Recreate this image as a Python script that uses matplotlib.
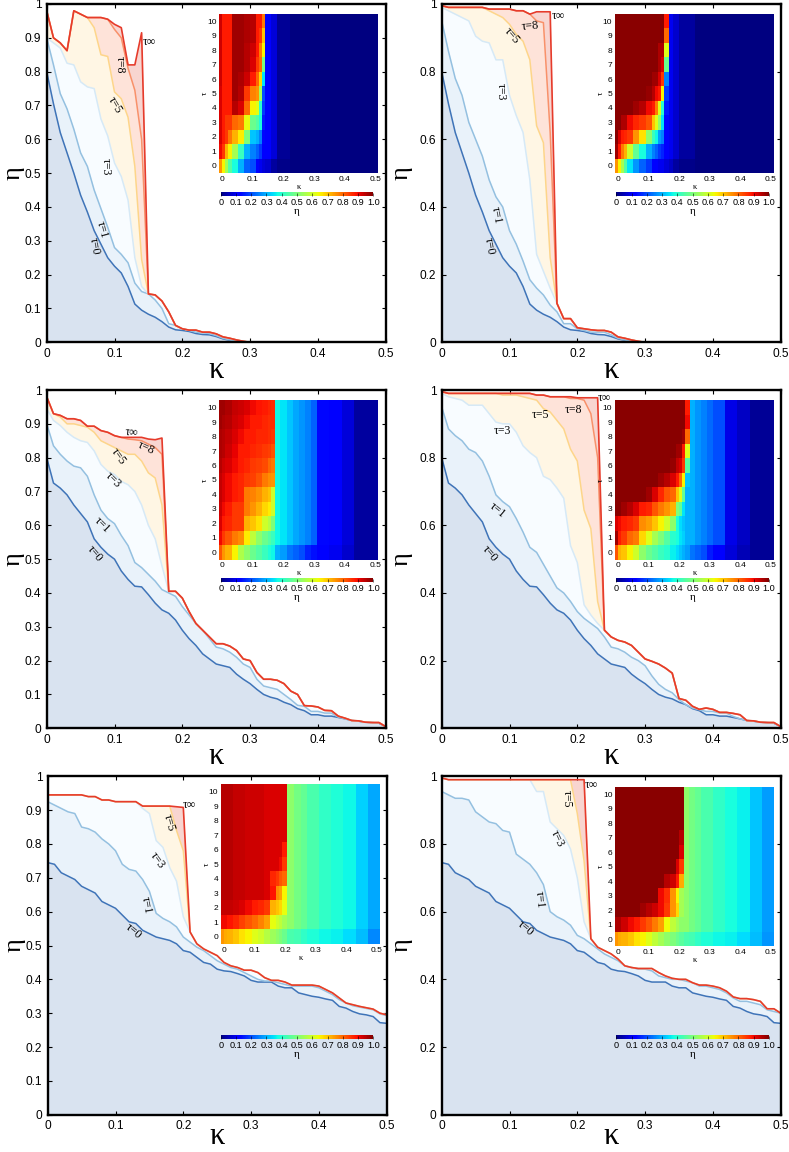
import numpy as np
import matplotlib
matplotlib.use("Agg")
import matplotlib.pyplot as plt

# =========================
# Datos: curvas eta(kappa) sobre una malla de 0.01
# =========================

kappa = [round(i * 0.01, 2) for i in range(51)]

# tau=0 se comparte por filas
tau0_ab = [.80,.705,.62,.56,.50,.435,.385,.33,.29,.25,.225,.205,.165,.113,.095,.083,.074,.061,.045,.037,.035,.032,.026,.023,.022,.017,.01,.006,.002,0,0]
tau0_cd = [.80,.725,.71,.69,.66,.635,.61,.56,.535,.515,.50,.465,.44,.42,.418,.395,.37,.35,.34,.32,.29,.265,.245,.22,.205,.19,.185,.18,.16,.145,.132,.115,.10,.092,.087,.077,.07,.058,.052,.04,.04,.036,.036,.032,.028,.023,.021,.018,.017,.015,.005]
tau0_ef = [.745,.74,.715,.705,.695,.675,.665,.655,.63,.62,.61,.59,.57,.565,.545,.535,.525,.52,.515,.505,.485,.48,.465,.45,.445,.43,.425,.423,.417,.41,.397,.392,.392,.392,.38,.375,.375,.36,.355,.35,.347,.342,.338,.32,.315,.305,.298,.295,.29,.272,.27]

# panel a
tau1_a = [.90,.82,.735,.69,.63,.56,.52,.45,.395,.34,.28,.26,.235,.175,.15,.143,.125,.10,.055,.05,.04,.035,.03,.028,.026,.02,.012,.007,.003,0,0]
tau3_a = [.90,.885,.87,.825,.82,.77,.755,.75,.66,.61,.53,.49,.42,.25,.165]
tau5_a = [.98,.90,.885,.862,.98,.97,.96,.93,.85,.845,.74,.72,.665,.52,.245]
tau8_a = [.98,.90,.885,.862,.98,.97,.96,.96,.96,.955,.925,.90,.81,.745,.60]
tinf_a = [.98,.90,.885,.862,.98,.97,.96,.96,.96,.955,.94,.93,.82,.82,.915]
tail_a = [.143,.14,.122,.09,.05,.04,.036,.036,.03,.03,.025,.016,.012,.007,.003,0]

# panel b
tau1_b = [.95,.86,.78,.73,.65,.60,.55,.48,.43,.40,.33,.29,.24,.185,.16,.14,.11,.09,.055,.055,.04,.035,.03,.03,.03,.022,.012,.007,.003,0,0]
tau3_b = [.99,.98,.97,.96,.95,.905,.89,.885,.835,.835,.73,.67,.62,.48,.26,.21,.16]
tau5_b = [.995,.99,.99,.99,.99,.99,.99,.98,.97,.96,.94,.91,.89,.835,.64,.59,.25]
tau8_b = [.995,.99,.99,.99,.99,.99,.99,.985,.985,.985,.985,.98,.98,.97,.95,.945,.62]
tinf_b = [.995,.99,.99,.99,.99,.99,.99,.985,.985,.985,.985,.98,.98,.97,.977,.977,.977]
tail_b = [.115,.07,.07,.043,.04,.037,.035,.035,.03,.016,.012,.007,.003,0]

# panel c
tau1_c = [.90,.835,.81,.79,.775,.77,.745,.69,.645,.62,.605,.57,.54,.49,.475,.455,.435,.41,.40,.39,.36,.335,.31,.29,.265,.24,.235,.225,.21,.19,.18,.145,.125,.12,.115,.10,.085,.068,.065,.05,.05,.045,.045,.033,.028,.023,.021,.018,.017,.016,.005]
tau3_c = [.945,.91,.895,.875,.86,.85,.845,.82,.78,.76,.75,.73,.72,.70,.66,.60,.56,.48]
tau5_c = [.98,.93,.92,.90,.90,.895,.89,.875,.85,.84,.83,.82,.81,.81,.79,.755,.74,.66]
tau8_c = [.98,.93,.925,.915,.915,.91,.893,.893,.88,.875,.865,.86,.855,.853,.85,.84,.83,.81]
tinf_c = [.98,.93,.925,.915,.915,.91,.893,.893,.88,.875,.865,.86,.86,.86,.86,.855,.853,.858]
tail_c = [.405,.405,.385,.345,.31,.29,.27,.25,.25,.243,.23,.205,.20,.165,.145,.145,.142,.132,.11,.10,.067,.066,.063,.053,.052,.036,.03,.023,.022,.018,.017,.017,.005]

# panel d
tau1_d = [.95,.885,.865,.85,.825,.815,.79,.745,.69,.67,.655,.62,.58,.535,.52,.485,.45,.415,.40,.375,.345,.325,.31,.295,.27,.24,.235,.225,.21,.20,.185,.155,.13,.115,.105,.085,.07,.06,.055,.05,.05,.045,.045,.035,.028,.023,.021,.018,.017,.016,.005]
tau3_d = [.99,.98,.975,.97,.955,.955,.955,.93,.905,.90,.90,.875,.835,.815,.80,.745,.735,.71,.68,.54,.49,.365,.335,.31]
tau5_d = [.995,.99,.99,.99,.99,.99,.99,.99,.99,.985,.985,.985,.98,.975,.97,.945,.935,.91,.885,.825,.79,.645,.59,.375]
tau8_d = [.995,.99,.99,.99,.99,.99,.99,.99,.99,.99,.99,.99,.99,.99,.985,.985,.98,.98,.98,.975,.975,.97,.93,.80]
tinf_d = [.995,.99,.99,.99,.99,.99,.99,.99,.99,.99,.99,.99,.99,.99,.985,.985,.98,.98,.98,.98,.977,.977,.977,.977]
tail_d = [.29,.27,.26,.255,.245,.225,.205,.198,.19,.178,.163,.088,.083,.065,.056,.06,.056,.047,.047,.044,.04,.023,.022,.018,.017,.017,.005]

# panel e
tau1_e = [.925,.915,.905,.895,.89,.85,.845,.835,.815,.80,.78,.74,.725,.72,.695,.66,.595,.58,.57,.555,.525,.51,.495,.485,.47,.455,.445,.435,.43,.42,.41,.40,.395,.395,.39,.385,.38,.38,.38,.38,.375,.365,.355,.34,.33,.322,.318,.314,.31,.298,.293]
tau3_e = [.945,.945,.945,.945,.945,.945,.94,.94,.93,.93,.925,.925,.925,.925,.905,.89,.81,.79,.73,.69,.585]
tau5_e = [.945,.945,.945,.945,.945,.945,.94,.94,.93,.93,.925,.925,.925,.925,.912,.912,.912,.912,.912,.84,.78]
tinf_e = [.945,.945,.945,.945,.945,.945,.94,.94,.93,.93,.925,.925,.925,.925,.912,.912,.912,.912,.912,.91,.908]
tail_e = [.54,.505,.49,.48,.47,.45,.44,.435,.427,.427,.42,.405,.397,.397,.392,.383,.383,.383,.383,.38,.37,.36,.345,.33,.325,.32,.316,.312,.30,.295]

# panel f
tau1_f = [.955,.945,.935,.935,.93,.895,.88,.865,.86,.84,.835,.77,.755,.74,.715,.68,.60,.585,.575,.56,.53,.52,.505,.49,.475,.465,.455,.44,.435,.43,.43,.425,.41,.405,.40,.40,.395,.39,.38,.38,.375,.37,.36,.345,.335,.335,.33,.325,.31,.305,.30]
tau3_f = [.995,.99,.99,.99,.99,.99,.99,.99,.99,.99,.99,.99,.99,.99,.955,.955,.865,.845,.825,.785,.70,.57]
tau5_f = [.995,.99,.99,.99,.99,.99,.99,.99,.99,.99,.99,.99,.99,.99,.99,.99,.99,.99,.99,.99,.89,.75]
tinf_f = [.995,.99,.99,.99,.99,.99,.99,.99,.99,.99,.99,.99,.99,.99,.99,.99,.99,.99,.99,.99,.99,.99]
tail_f = [.52,.495,.485,.475,.46,.44,.435,.432,.432,.432,.42,.41,.403,.40,.40,.39,.383,.383,.38,.375,.365,.348,.343,.343,.34,.335,.313,.313,.30]

# =========================
# Datos: mapas de color (eta en %), filas tau=10 ... tau=0
# =========================

edges_a = [-.01,0,.01,.02,.03,.05,.07,.09,.11,.12,.13,.14,.16,.18,.22,.51]
heat_a = [
    [93,88,88,88,97,97,96,95,88,88,78],
    [93,88,88,88,97,97,96,95,88,85,70],
    [93,88,88,88,97,97,95,93,88,78,65],
    [93,88,88,88,97,97,95,92,85,80,50],
    [93,88,88,88,97,96,93,88,80,68,35],
    [92,88,88,88,97,95,85,77,75,55,20],
    [92,88,88,88,95,92,80,65,62,40,18],
    [92,88,85,85,80,78,63,48,45,38,15],
    [92,88,85,78,72,66,50,32,30,25,13],
    [90,85,72,65,55,42,30,25,22,18,11],
    [75,65,55,45,38,30,22,20,12,10,8],
]
right_a = [12,8,2,0]
right0_a = [7,3,1,0]

edges_b = [-.01,0,.01,.02,.03,.05,.07,.09,.11,.12,.13,.14,.15,.165,.18,.2,.25,.51]
heat_b = [
    [99,99,99,99,99,99,99,99,99,99,99,99,88],
    [99,99,99,99,99,99,99,99,99,99,99,99,80],
    [99,99,99,99,99,99,99,99,99,99,96,96,62],
    [99,99,99,99,99,99,99,99,99,99,96,92,48],
    [99,99,99,99,99,99,99,99,97,97,92,85,25],
    [99,99,99,99,99,99,99,98,95,90,88,65,18],
    [99,99,99,99,99,97,95,90,88,78,62,40,15],
    [99,99,96,96,90,87,85,82,70,62,52,35,13],
    [99,92,88,87,85,75,67,52,42,37,28,25,12],
    [97,88,78,72,60,47,38,30,25,22,18,16,11],
    [75,65,55,45,35,27,22,18,12,11,10,10,8],
]
right_b = [10,7,3,0]
right0_b = [6,3,1,0]

edges_c = [-.01,0,.01,.03,.05,.07,.09,.11,.13,.15,.16,.172,.19,.21,.23,.25,.27,.29,.31,.35,.39,.43,.51]
heat_c = [
    [97,97,96,94,93,92,90,89,88,87,86],
    [97,96,95,93,92,90,88,88,87,86,86],
    [96,95,94,92,90,88,88,87,87,86,85],
    [96,95,93,91,88,88,87,86,85,84,82],
    [95,93,92,90,88,87,85,84,83,80,78],
    [94,92,90,88,87,85,84,82,78,76,75],
    [94,92,90,88,87,78,77,75,72,70,60],
    [93,90,88,85,85,78,75,72,68,66,60],
    [92,88,87,85,85,72,70,67,60,57,50],
    [90,85,82,78,76,66,58,52,48,45,42],
    [82,75,72,65,56,52,48,45,42,39,37],
]
right_c = [37,35,32,29,27,25,22,13,12,8,3]
right0_c = [30,28,24,22,20,16,14,12,10,7,3]

edges_d = [-.01,0,.01,.03,.05,.07,.09,.11,.13,.15,.17,.19,.2,.21,.22,.235,.25,.27,.29,.31,.35,.39,.43,.51]
heat_d = [
    [99,99,99,99,99,99,99,99,99,99,99,99,99,99,88],
    [99,99,99,99,99,99,99,99,99,99,99,99,99,99,90],
    [99,99,99,99,99,99,99,99,99,99,99,99,99,97,80],
    [99,99,99,99,99,99,99,99,99,99,99,97,97,88,62],
    [99,99,99,99,99,99,99,99,99,99,98,94,92,85,45],
    [99,99,99,99,99,99,99,99,97,95,92,88,80,65,32],
    [99,99,99,99,99,99,97,92,87,82,80,70,62,47,30],
    [99,99,97,95,92,88,87,82,78,75,72,50,47,35,30],
    [92,90,88,87,85,76,74,70,65,60,52,38,34,32,30],
    [97,88,85,80,78,68,62,55,50,45,40,38,35,33,30],
    [82,72,70,65,60,52,48,45,42,40,36,34,32,30,28],
]
right_d = [30,27,25,23,20,9,6,2]
right0_d = [24,22,20,15,12,8,5,2]

edges_e = [-.01,0,.01,.03,.05,.07,.09,.11,.13,.15,.17,.18,.19,.205,.23,.25,.27,.31,.35,.39,.43,.47,.51]
heat_e = [
    [95,95,95,94,94,93,93,93,92,92,92,92,92],
    [95,95,95,94,94,93,93,93,92,92,92,92,92],
    [95,95,95,94,94,93,93,93,92,92,92,92,92],
    [95,95,95,94,94,93,93,93,92,92,92,92,92],
    [95,95,95,94,94,93,93,93,92,92,92,92,88],
    [95,95,95,94,94,93,93,93,92,92,92,90,85],
    [95,95,95,94,94,93,93,93,92,87,85,82,80],
    [95,95,95,94,94,93,93,93,92,89,76,74,65],
    [94,94,94,93,92,90,88,87,85,72,70,68,63],
    [90,90,89,87,84,82,80,77,74,63,60,58,55],
    [75,73,72,70,67,65,62,60,57,54,52,50,48],
]
right_e = [52,49,47,44,41,39,37,33,29]
right0_e = [44,43,41,39,37,36,34,31,26]

edges_f = [-.01,0,.01,.03,.05,.07,.09,.11,.13,.15,.17,.19,.2,.215,.23,.25,.27,.31,.35,.39,.43,.47,.51]
heat_f = [
    [99,99,99,99,99,99,99,99,99,99,99,99,99],
    [99,99,99,99,99,99,99,99,99,99,99,99,99],
    [99,99,99,99,99,99,99,99,99,99,99,99,99],
    [99,99,99,99,99,99,99,99,99,99,99,99,95],
    [99,99,99,99,99,99,99,99,99,99,99,99,92],
    [99,99,99,99,99,99,99,99,99,99,99,92,85],
    [99,99,99,99,99,99,99,99,99,95,93,88,73],
    [99,99,99,99,99,99,99,99,90,86,75,65,55],
    [99,99,99,99,99,97,95,93,90,85,75,68,55],
    [96,96,93,90,88,85,82,78,74,64,58,55,52],
    [75,73,72,70,67,65,62,58,55,52,50,48,46],
]
right_f = [52,49,47,44,41,38,36,32,28]
right0_f = [44,43,41,39,37,36,34,31,27]

# etiquetas: texto, kappa, eta, rotacion
labels_a = [("τ=8",.108,.82,-90),("τ=5",.10,.70,-60),("τ=3",.087,.52,-90),("τ=1",.082,.332,-75),("τ=0",.07,.285,-80),("τ∞",.152,.887,0)]
labels_b = [("τ=8",.13,.935,5),("τ=5",.103,.905,-50),("τ=3",.087,.74,-90),("τ=1",.08,.375,-80),("τ=0",.07,.285,-80),("τ∞",.172,.965,0)]
labels_c = [("τ∞",.125,.875,-5),("τ=8",.146,.828,-25),("τ=5",.105,.805,-55),("τ=3",.097,.735,-45),("τ=1",.082,.60,-45),("τ=0",.07,.517,-50)]
labels_d = [("τ∞",.24,.975,0),("τ=8",.194,.94,0),("τ=5",.145,.925,0),("τ=3",.09,.88,0),("τ=1",.082,.645,-40),("τ=0",.07,.517,-50)]
labels_e = [("τ∞",.209,.915,0),("τ=5",.178,.863,-75),("τ=3",.162,.752,-55),("τ=1",.145,.62,-80),("τ=0",.126,.543,-40)]
labels_f = [("τ∞",.22,.975,0),("τ=5",.185,.935,-90),("τ=3",.17,.815,-65),("τ=1",.144,.635,-85),("τ=0",.124,.55,-40)]

colorbar_ticks = [0,.1,.2,.3,.4,.5,.6,.7,.8,.9,1]
colorbar_labels = ["0","0.1","0.2","0.3","0.4","0.5","0.6","0.7","0.8","0.9","1.0"]

# =========================
# Figura
# =========================

W, H = 789, 1152
plt.rcParams["font.family"] = ["Liberation Sans", "DejaVu Sans"]
serif = ["Liberation Serif", "DejaVu Serif"]

fig = plt.figure(figsize=(W / 100, H / 100), dpi=100)


def box(x0, y0, x1, y1):
    # rectangulo en pixeles (origen arriba a la izquierda)
    return [x0 / W, 1 - y1 / H, (x1 - x0) / W, (y1 - y0) / H]


fill_colors = {"inf": "#f8d5d0", "8": "#fee3d9", "5": "#fff6e4", "3": "#f8fcff", "1": "#e9f2fa", "0": "#d9e3f0"}
line_colors = {"inf": "#e63b2b", "8": "#f8916a", "5": "#fdd58a", "3": "#d6e9f6", "1": "#94c0e0", "0": "#3f74b8"}


def panel(main, inset, cbar, yticks, tau0, tau1, tau3, tau5, tau8, tinf, tail, labels,
          edges, heat, right, right0):
    ax = fig.add_axes(box(*main))

    curves = [("inf", tinf + tail)]
    if tau8 is not None:
        curves.append(("8", tau8 + tail))
    curves += [("5", tau5 + tail), ("3", tau3 + tail), ("1", tau1), ("0", tau0)]

    for name, y in curves:
        ax.fill_between(kappa[:len(y)], y, 0, color=fill_colors[name], lw=0)
    for name, y in reversed(curves[1:]):
        ax.plot(kappa[:len(y)], y, color=line_colors[name], lw=1.1)
    ax.plot(kappa[:len(curves[0][1])], curves[0][1], color=line_colors["inf"], lw=1.2)

    for txt, k, e, rot in labels:
        ax.text(k, e, txt, family=serif, fontsize=8.5, rotation=rot, ha="center", va="center")

    ax.set_xlim(0, 0.5)
    ax.set_ylim(0, 1)
    ax.set_xticks([0, .1, .2, .3, .4, .5])
    ax.set_xticklabels(["0", "0.1", "0.2", "0.3", "0.4", "0.5"])
    ax.set_yticks(yticks)
    ax.set_yticklabels([f"{v:g}" for v in yticks])
    ax.tick_params(direction="in", top=True, right=True, length=3, width=0.8, labelsize=8.6, pad=3.8)
    for s in ax.spines.values():
        s.set_linewidth(1.7)

    # kappa y eta grandes, en pixeles respecto al eje
    kappa_dy = 21.5 if main[3] > 1000 else 28
    eta_dx = 33 if main[0] < 100 else 40
    fig.text((main[0] + main[2]) / 2 / W, 1 - (main[3] + kappa_dy) / H, "κ", family=serif, fontsize=22, ha="center", va="center")
    fig.text((main[0] - eta_dx) / W, 1 - (main[1] + main[3]) / 2 / H, "η", family=serif, fontsize=19, rotation=90, ha="center", va="center")

    # mapa de color insertado
    ins = fig.add_axes(box(*inset))
    rows = [row + (right0 if i == 10 else right) for i, row in enumerate(heat)]
    z = np.array(rows[::-1]) / 100
    mesh = ins.pcolormesh(edges, np.arange(-0.5, 11), z, cmap="jet", vmin=0, vmax=1, shading="flat")
    ins.set_xlim(edges[0], edges[-1])
    ins.set_ylim(-0.5, 10.5)
    ins.set_xticks([0, .1, .2, .3, .4, .5])
    ins.set_xticklabels(["0", "0.1", "0.2", "0.3", "0.4", "0.5"])
    ins.set_yticks(range(11))
    ins.tick_params(length=0, labelsize=6, pad=2)
    for s in ins.spines.values():
        s.set_visible(False)
    ins.set_xlabel("κ", family=serif, fontsize=6)
    ins.set_ylabel("τ", family=serif, fontsize=6)
    ins.xaxis.set_label_coords(0.5, -0.06)
    ins.yaxis.set_label_coords(-0.065, 0.5)

    cax = fig.add_axes(box(*cbar))
    cb = fig.colorbar(mesh, cax=cax, orientation="horizontal", ticks=colorbar_ticks)
    cb.ax.set_xticklabels(colorbar_labels)
    cb.ax.tick_params(direction="in", length=2, width=0.4, labelsize=6.6, pad=1.5)
    cb.outline.set_visible(False)
    cb.set_label("η", family=serif, fontsize=8, labelpad=0)


fine = [0, .1, .2, .3, .4, .5, .6, .7, .8, .9, 1]
coarse = [0, .2, .4, .6, .8, 1]

panel((46.7, 4, 385.7, 342.3), (219.3, 14, 378.3, 173), (220.7, 191.7, 373.3, 196), fine,
      tau0_ab, tau1_a, tau3_a, tau5_a, tau8_a, tinf_a, tail_a, labels_a, edges_a, heat_a, right_a, right0_a)
panel((441.7, 4, 780.7, 342.3), (615, 14, 774, 173), (616.3, 191.7, 769, 196), coarse,
      tau0_ab, tau1_b, tau3_b, tau5_b, tau8_b, tinf_b, tail_b, labels_b, edges_b, heat_b, right_b, right0_b)
panel((46.7, 390, 385.7, 728.3), (219.3, 400.3, 378.3, 559.7), (220.7, 578.3, 373.3, 582.3), fine,
      tau0_cd, tau1_c, tau3_c, tau5_c, tau8_c, tinf_c, tail_c, labels_c, edges_c, heat_c, right_c, right0_c)
panel((441.7, 390, 780.7, 728.3), (615, 400.3, 774, 559.7), (616.3, 578.3, 769, 582.3), coarse,
      tau0_cd, tau1_d, tau3_d, tau5_d, tau8_d, tinf_d, tail_d, labels_d, edges_d, heat_d, right_d, right0_d)
panel((47.7, 776.3, 386.7, 1114.7), (221, 784.3, 380, 944), (220.7, 1034.7, 373.3, 1039.3), fine,
      tau0_ef, tau1_e, tau3_e, tau5_e, None, tinf_e, tail_e, labels_e, edges_e, heat_e, right_e, right0_e)
panel((441.7, 776.3, 780.7, 1114.7), (615.3, 787, 774, 946.3), (616.3, 1034.7, 769, 1039.3), coarse,
      tau0_ef, tau1_f, tau3_f, tau5_f, None, tinf_f, tail_f, labels_f, edges_f, heat_f, right_f, right0_f)

fig.savefig("out.png", dpi=100)
